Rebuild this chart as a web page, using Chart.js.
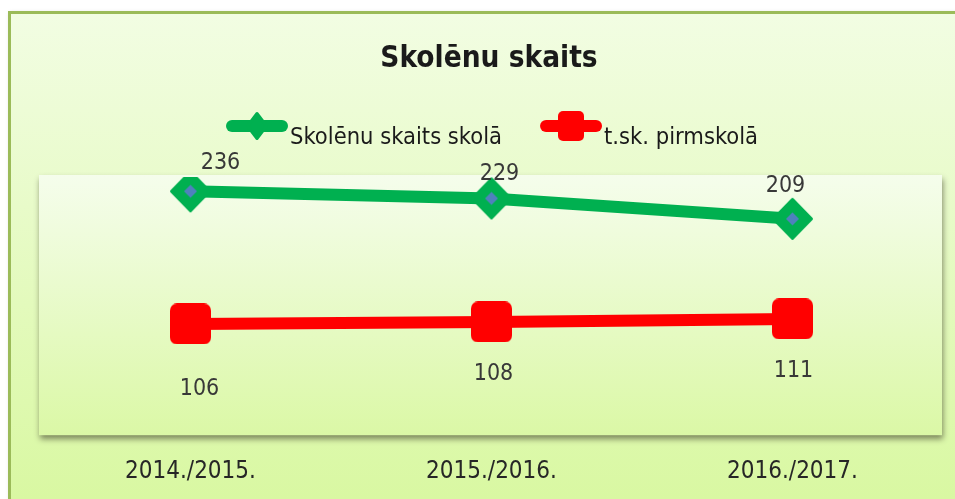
<!DOCTYPE html>
<html>
<head>
<meta charset="utf-8">
<title>Skolēnu skaits</title>
<script src="https://cdn.jsdelivr.net/npm/chart.js@4.4.0/dist/chart.umd.min.js"></script>
<style>
  html, body { margin: 0; padding: 0; background: #fff; }
  #wrap { width: 955px; height: 499px; }
</style>
</head>
<body>
<div id="wrap"><canvas id="chart"></canvas></div>
<script>
const years = ["2014./2015.", "2015./2016.", "2016./2017."];
const skolaValues = [236, 229, 209];
const pirmskolaValues = [106, 108, 111];
const seriesNames = ["Skolēnu skaits skolā", "t.sk. pirmskolā"];
const chartTitle = "Skolēnu skaits";

const GREEN = "#00b050";
const RED = "#ff0000";
const BLUE = "#4f81bd";
const FONT = "'DejaVu Sans Condensed', 'DejaVu Sans', sans-serif";

// marker images (used as pointStyle)
function diamondMarker(w, h, inner) {
  const c = document.createElement("canvas");
  c.width = w + 2;
  c.height = h + 2;
  const g = c.getContext("2d");
  const cx = c.width / 2, cy = c.height / 2;
  g.fillStyle = GREEN;
  g.strokeStyle = GREEN;
  g.lineWidth = 3;
  g.lineJoin = "round";
  g.beginPath();
  g.moveTo(cx, cy - h / 2 + 1.5);
  g.lineTo(cx + w / 2 - 1.5, cy);
  g.lineTo(cx, cy + h / 2 - 1.5);
  g.lineTo(cx - w / 2 + 1.5, cy);
  g.closePath();
  g.fill();
  g.stroke();
  if (inner) {
    g.fillStyle = BLUE;
    g.beginPath();
    g.moveTo(cx, cy - inner);
    g.lineTo(cx + inner, cy);
    g.lineTo(cx, cy + inner);
    g.lineTo(cx - inner, cy);
    g.closePath();
    g.fill();
  }
  return c;
}

function squareMarker(w, h, r) {
  const c = document.createElement("canvas");
  c.width = w;
  c.height = h;
  const g = c.getContext("2d");
  g.fillStyle = RED;
  g.beginPath();
  g.roundRect(0, 0, w, h, r);
  g.fill();
  return c;
}

const greenPoint = diamondMarker(41, 42, 6.5);
const redPoint = squareMarker(41, 41, 7);
const greenLegend = diamondMarker(22, 28, 0);
const redLegend = squareMarker(26, 30, 5);

const labelOffsets = [
  [[30, -22], [8, -18], [-7, -27]],
  [[9, 71], [2, 58], [1, 58]]
];

const decor = {
  id: "decor",
  beforeDraw(chart) {
    const { ctx, chartArea: a, width, height } = chart;
    ctx.save();
    ctx.fillStyle = "#fff";
    ctx.fillRect(0, 0, width, height);

    // outer frame
    let grad = ctx.createLinearGradient(0, 12, 0, height);
    grad.addColorStop(0, "#f2fde3");
    grad.addColorStop(1, "#d9f8a2");
    ctx.shadowColor = "rgba(0,0,0,0.25)";
    ctx.shadowBlur = 4;
    ctx.fillStyle = grad;
    ctx.fillRect(9.5, 12.5, width + 20, height + 20);
    ctx.shadowColor = "transparent";
    ctx.strokeStyle = "#9bbb59";
    ctx.lineWidth = 3;
    ctx.strokeRect(9.5, 12.5, width + 20, height + 20);

    // plot area
    const x0 = a.left - 1, y0 = a.top - 2, x1 = a.right - 1, y1 = a.bottom + 3;
    grad = ctx.createLinearGradient(0, y0, 0, y1);
    grad.addColorStop(0, "#f5fdec");
    grad.addColorStop(1, "#dbf8a6");
    ctx.shadowColor = "rgba(60,60,40,0.6)";
    ctx.shadowBlur = 6;
    ctx.shadowOffsetX = 1;
    ctx.shadowOffsetY = 4;
    ctx.fillStyle = grad;
    ctx.fillRect(x0, y0, x1 - x0, y1 - y0);
    ctx.restore();

    // title
    ctx.save();
    ctx.fillStyle = "#1a1a1a";
    ctx.font = "bold 29.5px " + FONT;
    ctx.textAlign = "center";
    ctx.textBaseline = "alphabetic";
    ctx.fillText(chartTitle, 489, 67);

    // legend
    ctx.font = "23.5px " + FONT;
    ctx.textAlign = "left";
    const lineW = 60, gap = 3, itemGap = 39;
    const marks = [greenLegend, redLegend];
    let x = 227;
    const ly = 126;
    chart.data.datasets.forEach((d, i) => {
      ctx.strokeStyle = d.borderColor;
      ctx.lineWidth = 12;
      ctx.lineCap = "round";
      ctx.beginPath();
      ctx.moveTo(x + 5, ly);
      ctx.lineTo(x + lineW - 5, ly);
      ctx.stroke();
      const m = marks[i];
      ctx.drawImage(m, x + lineW / 2 - m.width / 2, ly - m.height / 2);
      ctx.fillStyle = "#1a1a1a";
      ctx.fillText(d.label, x + lineW + gap, 144);
      x += lineW + gap + ctx.measureText(d.label).width + itemGap;
    });
    ctx.restore();
  },
  afterDatasetsDraw(chart) {
    const { ctx } = chart;
    ctx.save();
    ctx.font = "23px " + FONT;
    ctx.fillStyle = "#383838";
    ctx.textAlign = "center";
    ctx.textBaseline = "alphabetic";
    chart.data.datasets.forEach((d, i) => {
      chart.getDatasetMeta(i).data.forEach((pt, j) => {
        const off = labelOffsets[i][j];
        ctx.fillText(String(d.data[j]), pt.x + off[0], pt.y + off[1]);
      });
    });
    ctx.restore();
  }
};

new Chart(document.getElementById("chart"), {
  type: "line",
  data: {
    labels: years,
    datasets: [
      {
        label: seriesNames[0],
        data: skolaValues,
        borderColor: GREEN,
        backgroundColor: GREEN,
        borderWidth: 12,
        pointStyle: greenPoint,
        pointRadius: 20,
        pointHoverRadius: 20
      },
      {
        label: seriesNames[1],
        data: pirmskolaValues,
        borderColor: RED,
        backgroundColor: RED,
        borderWidth: 12,
        pointStyle: redPoint,
        pointRadius: 20,
        pointHoverRadius: 20
      }
    ]
  },
  options: {
    responsive: true,
    maintainAspectRatio: false,
    animation: false,
    layout: { autoPadding: false, padding: { left: 40, right: 12, top: 177, bottom: -12 } },
    plugins: {
      legend: { display: false },
      title: { display: false },
      tooltip: { enabled: false }
    },
    scales: {
      y: { display: false, min: 0, max: 250 },
      x: {
        offset: true,
        grid: { display: false, drawTicks: false },
        border: { display: false },
        ticks: {
          padding: 25,
          color: "#262626",
          font: { family: FONT, size: 24 }
        }
      }
    }
  },
  plugins: [decor]
});
</script>
</body>
</html>
